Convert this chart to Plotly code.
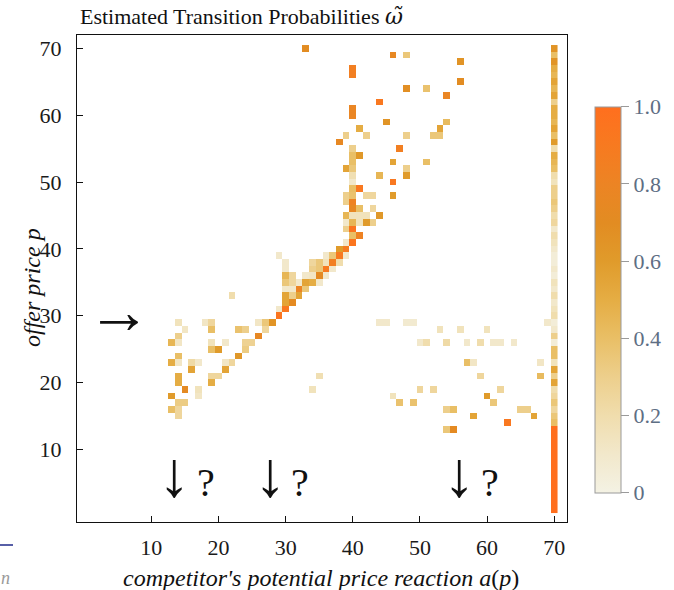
import numpy as np
import plotly.graph_objects as go

# ---------------- data ----------------
# scattered cells: competitor reaction a(p) (x), offer price p (y), probability
cell_x = [14, 18, 19, 26, 27, 28,
          15, 19, 23, 24, 27,
          14, 26,
          13, 14, 19, 21, 24, 25,
          19, 20, 24,
          14, 23,
          13, 14, 16, 17, 21, 22,
          16, 21,
          14, 19, 20,
          14, 19,
          15, 17,
          13, 17,
          14, 15,
          13, 14,
          14,
          22, 34, 35,
          29,
          29, 30,
          30, 31,
          30, 31, 32,
          30, 31, 32, 33,
          30, 31, 32, 33, 34, 35,
          30, 31, 33, 34, 35, 36,
          30, 34, 35, 36, 37,
          30, 34, 35, 36, 37, 38,
          29, 36, 37, 38, 39,
          38, 39,
          39, 40,
          40, 41,
          39, 40,
          39, 40, 41, 42, 43,
          39, 40, 41, 42, 44,
          40, 41, 43,
          39, 40,
          39, 40, 42, 43, 46,
          40, 41,
          40, 46,
          40, 44, 48,
          39, 40, 48,
          40, 46, 51,
          40, 41,
          40, 47,
          38,
          39, 42, 48, 52, 53,
          41, 53,
          45, 54,
          40, 40, 44, 54, 48, 51, 56, 40, 40, 56, 46, 48, 33,
          44, 45, 48, 49, 69,
          53, 56, 60,
          50, 51, 54, 57, 59, 61, 62, 64,
          57, 58, 68,
          59, 68,
          50, 52, 62,
          46, 60,
          47, 49, 61,
          54, 55, 65, 66,
          58, 67,
          63,
          54, 55]
cell_y = [29, 29, 29, 29, 29, 29,
          28, 28, 28, 28, 28,
          27, 27,
          26, 26, 26, 26, 26, 26,
          25, 25, 25,
          24, 24,
          23, 23, 23, 23, 23, 23,
          22, 22,
          21, 21, 21,
          20, 20,
          19, 19,
          18, 18,
          17, 17,
          16, 16,
          15,
          33, 19, 21,
          30,
          31, 31,
          32, 32,
          33, 33, 33,
          34, 34, 34, 34,
          35, 35, 35, 35, 35, 35,
          36, 36, 36, 36, 36, 36,
          37, 37, 37, 37, 37,
          38, 38, 38, 38, 38, 38,
          39, 39, 39, 39, 39,
          40, 40,
          41, 41,
          42, 42,
          43, 43,
          44, 44, 44, 44, 44,
          45, 45, 45, 45, 45,
          46, 46, 46,
          47, 47,
          48, 48, 48, 48, 48,
          49, 49,
          50, 50,
          51, 51, 51,
          52, 52, 52,
          53, 53, 53,
          54, 54,
          55, 55,
          56,
          57, 57, 57, 57, 57,
          58, 58,
          59, 59,
          60, 61, 62, 63, 64, 64, 65, 66, 67, 68, 69, 69, 70,
          29, 29, 29, 29, 29,
          28, 28, 28,
          26, 26, 26, 26, 26, 26, 26, 26,
          23, 23, 23,
          21, 21,
          19, 19, 19,
          18, 18,
          17, 17, 17,
          16, 16, 16, 16,
          15, 15,
          14,
          13, 13]
cell_p = [0.15, 0.12, 0.25, 0.12, 0.35, 0.65,
          0.12, 0.40, 0.38, 0.30, 0.25,
          0.30, 0.75,
          0.45, 0.12, 0.15, 0.10, 0.28, 0.28,
          0.40, 0.60, 0.32,
          0.40, 0.62,
          0.50, 0.12, 0.22, 0.10, 0.12, 0.25,
          0.55, 0.55,
          0.50, 0.25, 0.25,
          0.50, 0.50,
          0.72, 0.15,
          0.60, 0.12,
          0.32, 0.32,
          0.40, 0.25,
          0.25,
          0.20, 0.15, 0.18,
          0.95,
          0.10, 0.92,
          0.55, 0.72,
          0.55, 0.30, 0.55,
          0.10, 0.10, 0.80, 0.35,
          0.35, 0.25, 0.10, 0.55, 0.50, 0.10,
          0.45, 0.25, 0.10, 0.12, 0.72, 0.10,
          0.10, 0.30, 0.35, 0.90, 0.10,
          0.10, 0.25, 0.35, 0.15, 0.85, 0.20,
          0.10, 0.10, 0.35, 0.90, 0.10,
          0.60, 0.88,
          0.10, 0.95,
          0.40, 0.82,
          0.30, 0.95,
          0.10, 0.45, 0.15, 0.60, 0.30,
          0.45, 0.15, 0.15, 0.15, 0.62,
          0.75, 0.40, 0.25,
          0.30, 0.82,
          0.30, 0.38, 0.25, 0.25, 0.60,
          0.40, 0.92,
          0.10, 0.92,
          0.18, 0.45, 0.60,
          0.55, 0.35, 0.30,
          0.40, 0.55, 0.40,
          0.40, 0.62,
          0.30, 0.85,
          0.75,
          0.30, 0.30, 0.30, 0.35, 0.35,
          0.50, 0.55,
          0.65, 0.42,
          0.78, 0.78, 0.92, 0.78, 0.68, 0.38, 0.70, 0.85, 0.85, 0.65, 0.75, 0.35, 0.70,
          0.10, 0.10, 0.08, 0.08, 0.10,
          0.15, 0.15, 0.15,
          0.10, 0.20, 0.22, 0.10, 0.20, 0.10, 0.10, 0.10,
          0.40, 0.12, 0.12,
          0.25, 0.42,
          0.25, 0.25, 0.25,
          0.15, 0.60,
          0.38, 0.38, 0.35,
          0.30, 0.40, 0.30, 0.30,
          0.55, 0.55,
          0.92,
          0.35, 0.72]

# reaction a(p) = 70 (column at the right edge), offer prices 70 down to 1
col70_y = [70, 69, 68, 67, 66, 65, 64, 63, 62, 61, 60, 59, 58, 57, 56, 55, 54, 53, 52, 51,
           50, 49, 48, 47, 46, 45, 44, 43, 42, 41, 40, 39, 38, 37, 36, 35, 34, 33, 32, 31,
           30, 29, 28, 27, 26, 25, 24, 23, 22, 21, 20, 19, 18, 17, 16, 15, 14, 13, 12, 11,
           10, 9, 8, 7, 6, 5, 4, 3, 2, 1]
col70_p = [0.65, 0.40, 0.65, 0.50, 0.45, 0.55, 0.45, 0.55, 0.30, 0.50, 0.50, 0.45, 0.55, 0.40, 0.60, 0.20, 0.50, 0.45, 0.40, 0.20,
           0.15, 0.30, 0.30, 0.35, 0.30, 0.20, 0.25, 0.10, 0.20, 0.15, 0.10, 0.05, 0.05, 0.10, 0.05, 0.15, 0.10, 0.20, 0.10, 0.15,
           0.20, 0.05, 0.10, 0.30, 0.05, 0.40, 0.40, 0.15, 0.55, 0.30, 0.55, 0.20, 0.25, 0.35, 0.25, 0.35, 0.40, 1.0, 1.0, 1.0,
           1.0, 1.0, 1.0, 1.0, 1.0, 1.0, 1.0, 1.0, 1.0, 1.0]

axis_ticks = [10, 20, 30, 40, 50, 60, 70]
cbar_ticks = [0, 0.2, 0.4, 0.6, 0.8, 1.0]
cbar_text = ["0", "0.2", "0.4", "0.6", "0.8", "1.0"]

# ---------------- grid ----------------
n = 70
grid = np.full((n, n), np.nan)
for x, y, p in zip(cell_x, cell_y, cell_p):
    grid[y - 1, x - 1] = p
for y, p in zip(col70_y, col70_p):
    grid[y - 1, 70 - 1] = p
z = [[None if np.isnan(v) else float(v) for v in row] for row in grid]
coords = list(range(1, n + 1))

cscale = [
    [0.0, "#F4F2E4"], [0.1, "#F2E8CB"], [0.2, "#F0DDAD"], [0.3, "#EDCF8C"],
    [0.4, "#E9BF66"], [0.5, "#E5AD44"], [0.6, "#E09B2B"], [0.7, "#E28C22"],
    [0.8, "#EC8424"], [0.9, "#F77A20"], [1.0, "#FF6F1E"],
]

SERIF = "Liberation Serif, Times New Roman, serif"

fig = go.Figure(go.Heatmap(
    x=coords, y=coords, z=z,
    zmin=0, zmax=1, colorscale=cscale,
    hoverongaps=False,
    colorbar=dict(
        x=1.057, xanchor="left", y=0.4565, yanchor="middle",
        len=0.7926, lenmode="fraction", thickness=26,
        xpad=0, ypad=0, outlinewidth=1, outlinecolor="#9a9a9a",
        ticks="outside", ticklen=8, tickcolor="#9a9a9a",
        tickvals=cbar_ticks, ticktext=cbar_text,
        tickfont=dict(family=SERIF, size=22, color="#5E6E84"),
    ),
))

axis_common = dict(
    tickvals=axis_ticks, ticks="inside", ticklen=6, tickcolor="#111",
    showline=True, linecolor="#111", linewidth=1.3, mirror=True,
    showgrid=False, zeroline=False,
    tickfont=dict(family=SERIF, size=22, color="#1a1a1a"),
)
fig.update_xaxes(range=[-1.07, 71.9], ticklabelstandoff=5, **axis_common)
fig.update_yaxes(range=[-0.85, 72.0], ticklabelstandoff=10, **axis_common)

ann = [
    dict(text="Estimated Transition Probabilities <span style='font-family:DejaVu Serif'><i>ω̃</i></span>",
         x=(241 - 77) / 490, y=1.037, font=dict(family=SERIF, size=22, color="#111")),
    dict(text="<i>competitor's potential price reaction a</i>(<i>p</i>)", x=0.498, y=-0.115,
         font=dict(family=SERIF, size=24, color="#111")),
    dict(text="<i>offer price p</i>", x=-0.0918, y=0.4805, textangle=-90,
         font=dict(family=SERIF, size=24, color="#111")),
    dict(text="→", x=(119 - 77) / 490, y=(522 - 312) / 487,
         font=dict(family=SERIF, size=64, color="#111")),
    dict(text="↓", x=(174 - 77) / 490, y=(522 - 474) / 487,
         font=dict(family=SERIF, size=64, color="#111")),
    dict(text="?", x=(206 - 77) / 490, y=(522 - 482) / 487,
         font=dict(family=SERIF, size=40, color="#111")),
    dict(text="↓", x=(270 - 77) / 490, y=(522 - 474) / 487,
         font=dict(family=SERIF, size=64, color="#111")),
    dict(text="?", x=(300 - 77) / 490, y=(522 - 482) / 487,
         font=dict(family=SERIF, size=40, color="#111")),
    dict(text="↓", x=(459 - 77) / 490, y=(522 - 474) / 487,
         font=dict(family=SERIF, size=64, color="#111")),
    dict(text="?", x=(490 - 77) / 490, y=(522 - 482) / 487,
         font=dict(family=SERIF, size=40, color="#111")),
    dict(text="<i>n</i>", x=(5 - 77) / 490, y=(522 - 578) / 487,
         font=dict(family=SERIF, size=18, color="#9a9a9a")),
]
for a in ann:
    a.update(xref="paper", yref="paper", showarrow=False, xanchor="center", yanchor="middle")

fig.update_layout(
    width=674, height=590,
    margin=dict(l=77, r=107, t=35, b=68),
    paper_bgcolor="white", plot_bgcolor="white",
    annotations=ann,
    shapes=[dict(type="line", xref="paper", yref="paper",
                 x0=(0 - 77) / 490, x1=(13 - 77) / 490,
                 y0=(522 - 545) / 487, y1=(522 - 545) / 487,
                 line=dict(color="#1F2A8A", width=1.5))],
)

fig.write_html("out.html",
               config={"displayModeBar": False},
               post_script="document.body.style.margin='0';document.body.style.overflow='hidden';")
